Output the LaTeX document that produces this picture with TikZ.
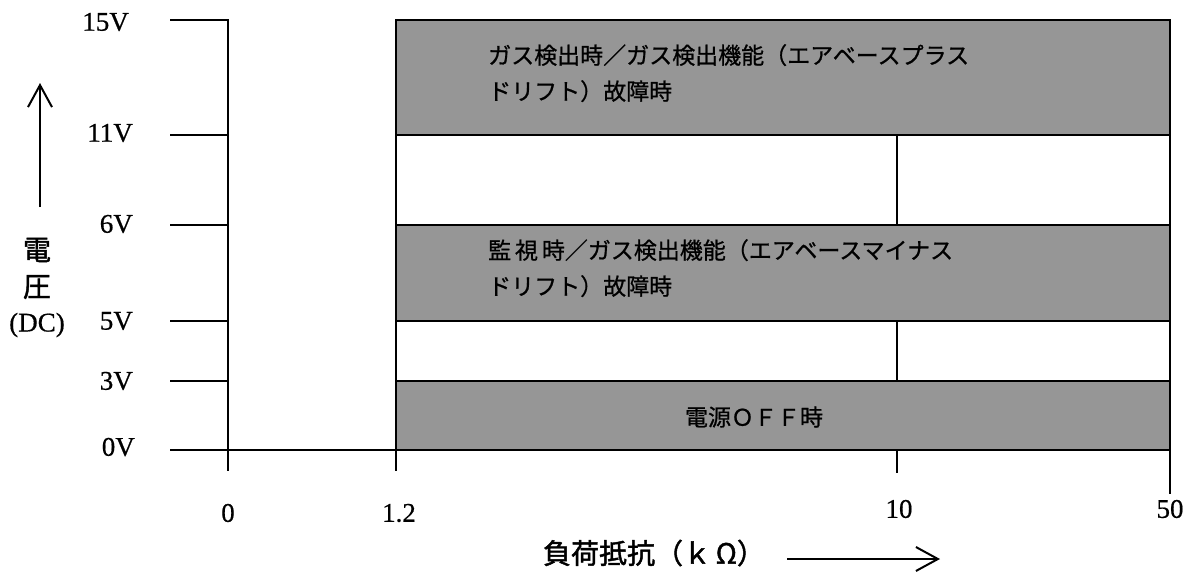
\documentclass[tikz,border=0pt]{standalone}
\usepackage{fontspec}
\setmainfont{Liberation Serif}[FakeBold=0.6]
\newfontfamily\cjk{Noto Sans CJK JP}[FakeBold=0.8]
\newfontfamily\cjkb{Noto Sans CJK JP}[FakeBold=1.6]
\usetikzlibrary{arrows.meta}
\definecolor{bandgray}{RGB}{150,150,150}
\tikzset{
  axisline/.style={line width=2pt, line cap=rect},
  graybox/.style={draw=black, line width=2pt, fill=bandgray, rectangle, minimum width=774pt, inner sep=0pt, outer sep=0pt, anchor=north west},
  whitebox/.style={draw=black, line width=2pt, fill=white, rectangle, minimum width=774pt, inner sep=0pt, outer sep=0pt, anchor=north west},
  vlab/.style={font=\fontsize{27}{27}\selectfont, anchor=east, inner sep=0pt},
  hlab/.style={font=\fontsize{27}{27}\selectfont, inner sep=0pt},
  bandtext/.style={font=\cjk\fontsize{23}{36}\selectfont, align=left, anchor=north west, inner sep=0pt},
  cjklab/.style={font=\cjkb\fontsize{28}{28}\selectfont, inner sep=0pt},
  bigarrow/.style={line width=2pt, -{Straight Barb[length=22pt,width=24pt,line width=2pt]}}
}
\begin{document}
\begin{tikzpicture}[x=1pt,y=-1pt]
\useasboundingbox (0,0) rectangle (1192,574);
% bands
\node[graybox, minimum height=115pt] (b15) at (396,20) {};
\node[whitebox, minimum height=90pt] (w11) at (396,135) {};
\node[graybox, minimum height=96pt] (b6) at (396,225) {};
\node[whitebox, minimum height=60pt] (w5) at (396,321) {};
\node[graybox, minimum height=69pt] (b3) at (396,381) {};
% dividers at 10 kOhm
\coordinate (d1t) at (897,135);
\coordinate (d1b) at (897,225);
\coordinate (d2t) at (897,321);
\coordinate (d2b) at (897,381);
\draw[axisline] (d1t) -- (d1b);
\draw[axisline] (d2t) -- (d2b);
% band texts
\node[bandtext] (t15) at (488,44) {ガス検出時／ガス検出機能（エアベースプラス\\ドリフト）故障時};
\node[bandtext] (t6) at (488,239) {監\,視\,時／ガス検出機能（エアベースマイナス\\ドリフト）故障時};
\node[inner sep=0pt, font=\cjk\fontsize{23}{23}\selectfont] (t3) at (754,417) {電源ＯＦＦ時};
% vertical axis
\coordinate (ax0) at (228,20);
\coordinate (ax1) at (228,470);
\draw[axisline] (ax0) -- (ax1);
% level ticks
\coordinate (k15) at (171,20);
\coordinate (k11) at (171,135);
\coordinate (k6) at (171,225);
\coordinate (k5) at (171,321);
\coordinate (k3) at (171,381);
\coordinate (k0) at (171,450);
\coordinate (a15) at (228,20);
\coordinate (a11) at (228,135);
\coordinate (a6) at (228,225);
\coordinate (a5) at (228,321);
\coordinate (a3) at (228,381);
\draw[axisline] (k15) -- (a15);
\draw[axisline] (k11) -- (a11);
\draw[axisline] (k6) -- (a6);
\draw[axisline] (k5) -- (a5);
\draw[axisline] (k3) -- (a3);
\draw[axisline] (k0) -- (b3.south west);
% x ticks
\coordinate (x12) at (396,470);
\coordinate (x10t) at (897,450);
\coordinate (x10) at (897,472);
\coordinate (x50) at (1170,493);
\draw[axisline] (b3.south west) -- (x12);
\draw[axisline] (x10t) -- (x10);
\draw[axisline] (b3.south east) -- (x50);
% level labels
\node[vlab] (l15) at (129,22) {15V};
\node[vlab] (l11) at (133,133) {11V};
\node[vlab] (l6) at (133,224) {6V};
\node[vlab] (l5) at (133,321) {5V};
\node[vlab] (l3) at (133,381) {3V};
\node[vlab] (l0) at (135,447) {0V};
% x labels
\node[hlab] (n0) at (228,513) {0};
\node[hlab] (n12) at (399,513) {1.2};
\node[hlab] (n10) at (899,509) {10};
\node[hlab] (n50) at (1170,509) {50};
% y axis title
\coordinate (ya0) at (40,207);
\coordinate (ya1) at (40,83);
\draw[bigarrow] (ya0) -- (ya1);
\node[cjklab] (yt1) at (37,250) {電};
\node[cjklab] (yt2) at (37,287) {圧};
\node[hlab] (yt3) at (37,325) {(DC)};
% x axis title
\node[cjklab] (xt) at (654,553) {負荷抵抗（ｋ\,Ω）};
\coordinate (xa0) at (787,559);
\coordinate (xa1) at (940,559);
\draw[bigarrow] (xa0) -- (xa1);
\end{tikzpicture}
\end{document}
